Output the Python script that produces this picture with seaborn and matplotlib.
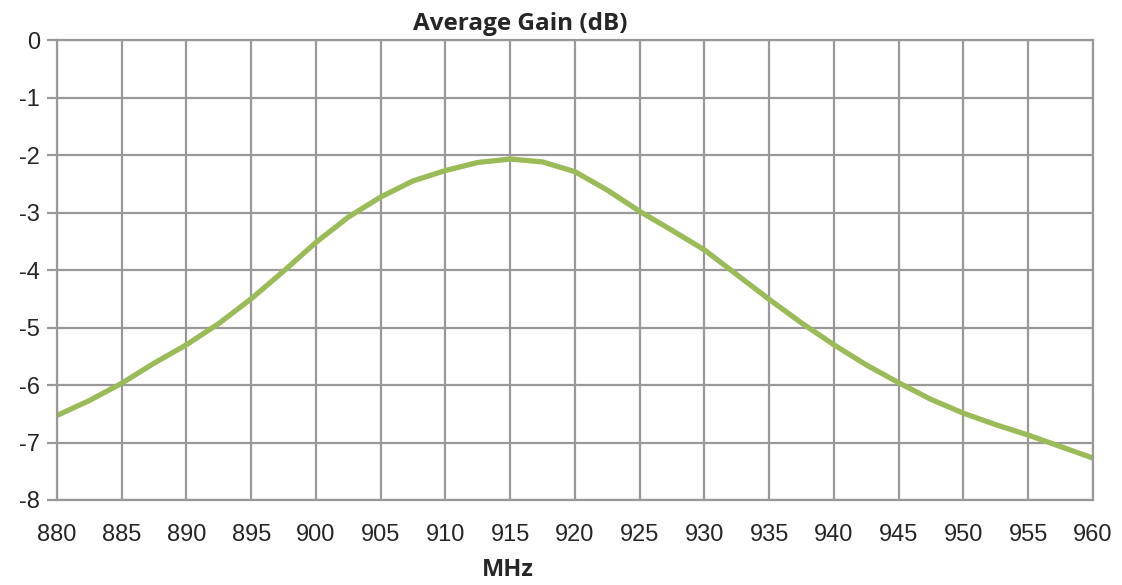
import matplotlib
matplotlib.use("Agg")
import matplotlib.pyplot as plt
import seaborn as sns
import pandas as pd

# values every 2.5 MHz
freq_mhz = [880, 882.5, 885, 887.5, 890, 892.5, 895, 897.5, 900, 902.5, 905, 907.5, 910, 912.5,
            915, 917.5, 920, 922.5, 925, 927.5, 930, 932.5, 935, 937.5, 940, 942.5, 945, 947.5,
            950, 952.5, 955, 957.5, 960]
gain_db = [-6.53, -6.27, -5.97, -5.62, -5.30, -4.93, -4.50, -4.02, -3.52, -3.08, -2.73, -2.45,
           -2.27, -2.13, -2.07, -2.12, -2.29, -2.61, -2.98, -3.31, -3.65, -4.08, -4.51, -4.92,
           -5.30, -5.65, -5.96, -6.25, -6.49, -6.69, -6.87, -7.07, -7.27]
x_ticks = list(range(880, 961, 5))
y_ticks = list(range(-8, 1))

df = pd.DataFrame({"MHz": freq_mhz, "gain": gain_db})

sns.set_theme(style="white")
plt.rcParams["font.family"] = ["Liberation Sans", "DejaVu Sans"]
plt.rcParams["axes.unicode_minus"] = False

fig = plt.figure(figsize=(11.22, 5.85), dpi=100)
ax = fig.add_axes([0.0508, 0.1453, 0.9232, 0.7863])

sns.lineplot(data=df, x="MHz", y="gain", ax=ax, color="#9BBB59", linewidth=3.8)
ax.lines[0].set_solid_joinstyle("round")

ax.set_xlim(880, 960)
ax.set_ylim(-8, 0)
ax.set_xticks(x_ticks)
ax.set_yticks(y_ticks)
ax.grid(True, color="#999999", linewidth=1.6)
ax.set_axisbelow(True)
for s in ax.spines.values():
    s.set_color("#999999")
    s.set_linewidth(1.6)

ax.tick_params(axis="y", which="major", left=True, length=7, width=1.6, color="#999999",
               labelsize=17, pad=5)
ax.tick_params(axis="x", which="major", bottom=False, labelsize=17, pad=11)

# title and axis label sit a little left of the plot centre
ax.set_title("Average Gain (dB)", fontsize=17.5, fontweight="bold", family=["Open Sans", "DejaVu Sans"],
             x=0.447, pad=7)
ax.set_xlabel("MHz", fontsize=17, fontweight="bold", family=["Open Sans", "DejaVu Sans"])
ax.xaxis.set_label_coords(0.435, -0.127)
ax.set_ylabel("")

fig.savefig("out.png", dpi=100)
plt.close(fig)
